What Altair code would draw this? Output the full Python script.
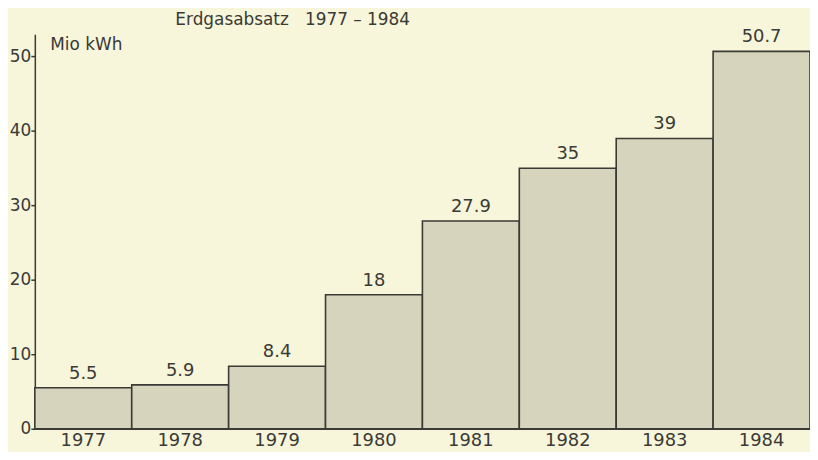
import altair as alt
import pandas as pd

years = ["1977", "1978", "1979", "1980", "1981", "1982", "1983", "1984"]
values = [5.5, 5.9, 8.4, 18, 27.9, 35, 39, 50.7]
labels = ["5.5", "5.9", "8.4", "18", "27.9", "35", "39", "50.7"]
y_ticks = [0, 10, 20, 30, 40, 50]

df = pd.DataFrame({"year": years, "value": values, "label": labels})

FONT = "DejaVu Sans"
INK = "#3a3a36"
BG = "#f7f5da"

x = alt.X("year:N", sort=years, title=None,
          scale=alt.Scale(paddingInner=0, paddingOuter=0),
          axis=alt.Axis(labelAngle=0, ticks=False, domain=True, domainColor=INK,
                        domainWidth=1.5, labelFont=FONT, labelFontSize=18,
                        labelColor=INK, labelPadding=3))
y = alt.Y("value:Q", title="Mio kWh",
          scale=alt.Scale(domain=[0, 53], nice=False, zero=True),
          axis=alt.Axis(values=y_ticks, grid=False, domainColor=INK, domainWidth=1.5,
                        tickColor=INK, tickWidth=1.5, tickSize=4,
                        labelFont=FONT, labelFontSize=17, labelColor=INK, labelPadding=0,
                        titleAngle=0, titleAlign="left", titleBaseline="middle",
                        titleX=15, titleY=10, titleFont=FONT, titleFontSize=17,
                        titleFontWeight="normal", titleColor=INK))

bars = alt.Chart(df).mark_bar(fill="#d6d4bc", stroke=INK, strokeWidth=1.6).encode(x=x, y=y)
text = alt.Chart(df).mark_text(font=FONT, fontSize=18, color=INK, baseline="bottom", dy=-5).encode(
    x=alt.X("year:N", sort=years), y="value:Q", text="label:N")

chart = alt.layer(bars, text).properties(
    width=780, height=397,
    autosize=alt.AutoSizeParams(type="none"),
    padding={"left": 27, "top": 25, "right": 0, "bottom": 22},
    title=alt.TitleParams("Erdgasabsatz\u00a0\u00a0\u00a01977\u00a0–\u00a01984", anchor="start",
                          dx=167, dy=3, offset=3,
                          font=FONT, fontSize=17, fontWeight="normal", color=INK),
).configure(background=BG).configure_view(stroke=None)

chart.save("out.html", embed_options={"renderer": "svg", "actions": False})
